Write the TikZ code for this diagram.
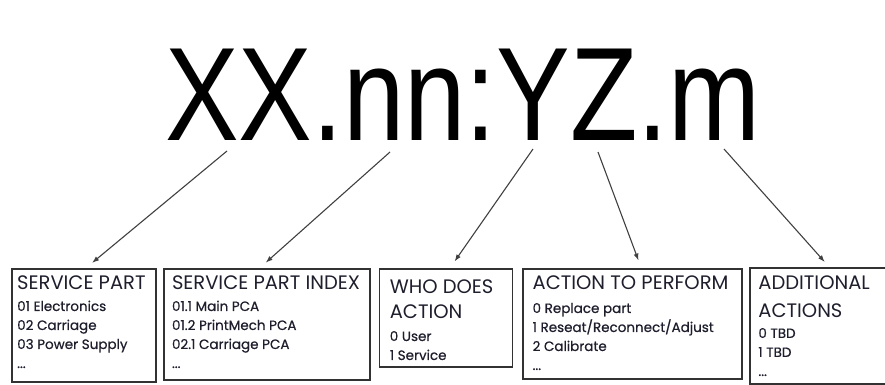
\documentclass[tikz,border=0pt]{standalone}
\usepackage{fontspec}
\setmainfont{Poppins}
\newfontfamily\codefont{Liberation Sans}
\newfontfamily\itemfont{Poppins}[FakeBold=0.6]
\usetikzlibrary{positioning,arrows.meta}
\definecolor{boxink}{RGB}{30,30,45}
\definecolor{boxline}{RGB}{50,50,50}
\tikzset{
  codebox/.style={draw=boxline, line width=1.8pt, anchor=north west, inner sep=0pt},
  codetext/.style={anchor=north west, inner sep=0pt, align=left, text=boxink,
    font=\itemfont\fontsize{13.5}{19}\selectfont},
  codearrow/.style={-{Latex[length=7pt,width=5pt]}, draw=black!75, line width=1.1pt, shorten >=8pt}
}
\newcommand{\boxtitle}[1]{{\normalfont\fontsize{19.5}{25}\selectfont #1}}
\newcommand{\bigcode}{\scalebox{0.83}[1]{\codefont\fontsize{133}{140}\selectfont XX.nn:YZ.m}}

\begin{document}
\begin{tikzpicture}[x=1pt,y=-1pt]
\useasboundingbox (0,0) rectangle (885,384);

%the code
\node[anchor=base west, inner sep=0pt] (code) at (165,140) {\bigcode};

\coordinate (xx) at (227,151);
\coordinate (nn) at (390,152);
\coordinate (y) at (533,149);
\coordinate (z) at (598,152);
\coordinate (m) at (724,149);

%boxes
\node[codebox, minimum width=144pt, minimum height=113pt] (part) at (11,268) {};
\node[codebox, minimum width=206pt, minimum height=111pt, right=6pt of part.north east, anchor=north west] (index) {};
\node[codebox, minimum width=133pt, minimum height=98pt, right=8pt of index.north east, anchor=north west] (who) {};
\node[codebox, minimum width=219pt, minimum height=110pt, right=9pt of who.north east, anchor=north west] (action) {};
\node[codebox, draw=none, minimum width=180pt, minimum height=114pt, right=7pt of action.north east, anchor=north west] (extra) {};
%last box runs off the edge
\draw[boxline, line width=1.8pt] (extra.north east) -- (extra.north west) -- (extra.south west) -- (extra.south east);

%box texts
\node[codetext] (parttext) at ([xshift=6pt,yshift=-8pt]part.north west)
  {\boxtitle{SERVICE PART}\\[2pt] 01 Electronics\\ 02 Carriage\\ 03 Power Supply\\ ...};
\node[codetext] (indextext) at ([xshift=9pt,yshift=-8pt]index.north west)
  {\boxtitle{SERVICE PART INDEX}\\[2pt] 01.1 Main PCA\\ 01.2 PrintMech PCA\\ 02.1 Carriage PCA\\ ...};
\node[codetext] (whotext) at ([xshift=11pt,yshift=-12pt]who.north west)
  {\boxtitle{WHO DOES}\\[6pt] \boxtitle{ACTION}\\[3pt] 0 User\\ 1 Service};
\node[codetext] (actiontext) at ([xshift=10pt,yshift=-8pt]action.north west)
  {\boxtitle{ACTION TO PERFORM}\\[4pt] 0 Replace part\\ 1 Reseat/Reconnect/Adjust\\ 2 Calibrate\\ ...};
\node[codetext] (extratext) at ([xshift=8pt,yshift=-8pt]extra.north west)
  {\boxtitle{ADDITIONAL}\\[9pt] \boxtitle{ACTIONS}\\[1pt] 0 TBD\\ 1 TBD\\ ...};

%arrows
\draw[codearrow] (xx) -- ([xshift=2pt]part.north);
\draw[codearrow] (nn) -- ([xshift=-7pt]index.north);
\draw[codearrow] (y) -- ([xshift=4pt]who.north);
\draw[codearrow] (z) -- ([xshift=8.5pt]action.north);
\draw[codearrow] (m) -- ([xshift=-11pt]extra.north);
\end{tikzpicture}
\end{document}
